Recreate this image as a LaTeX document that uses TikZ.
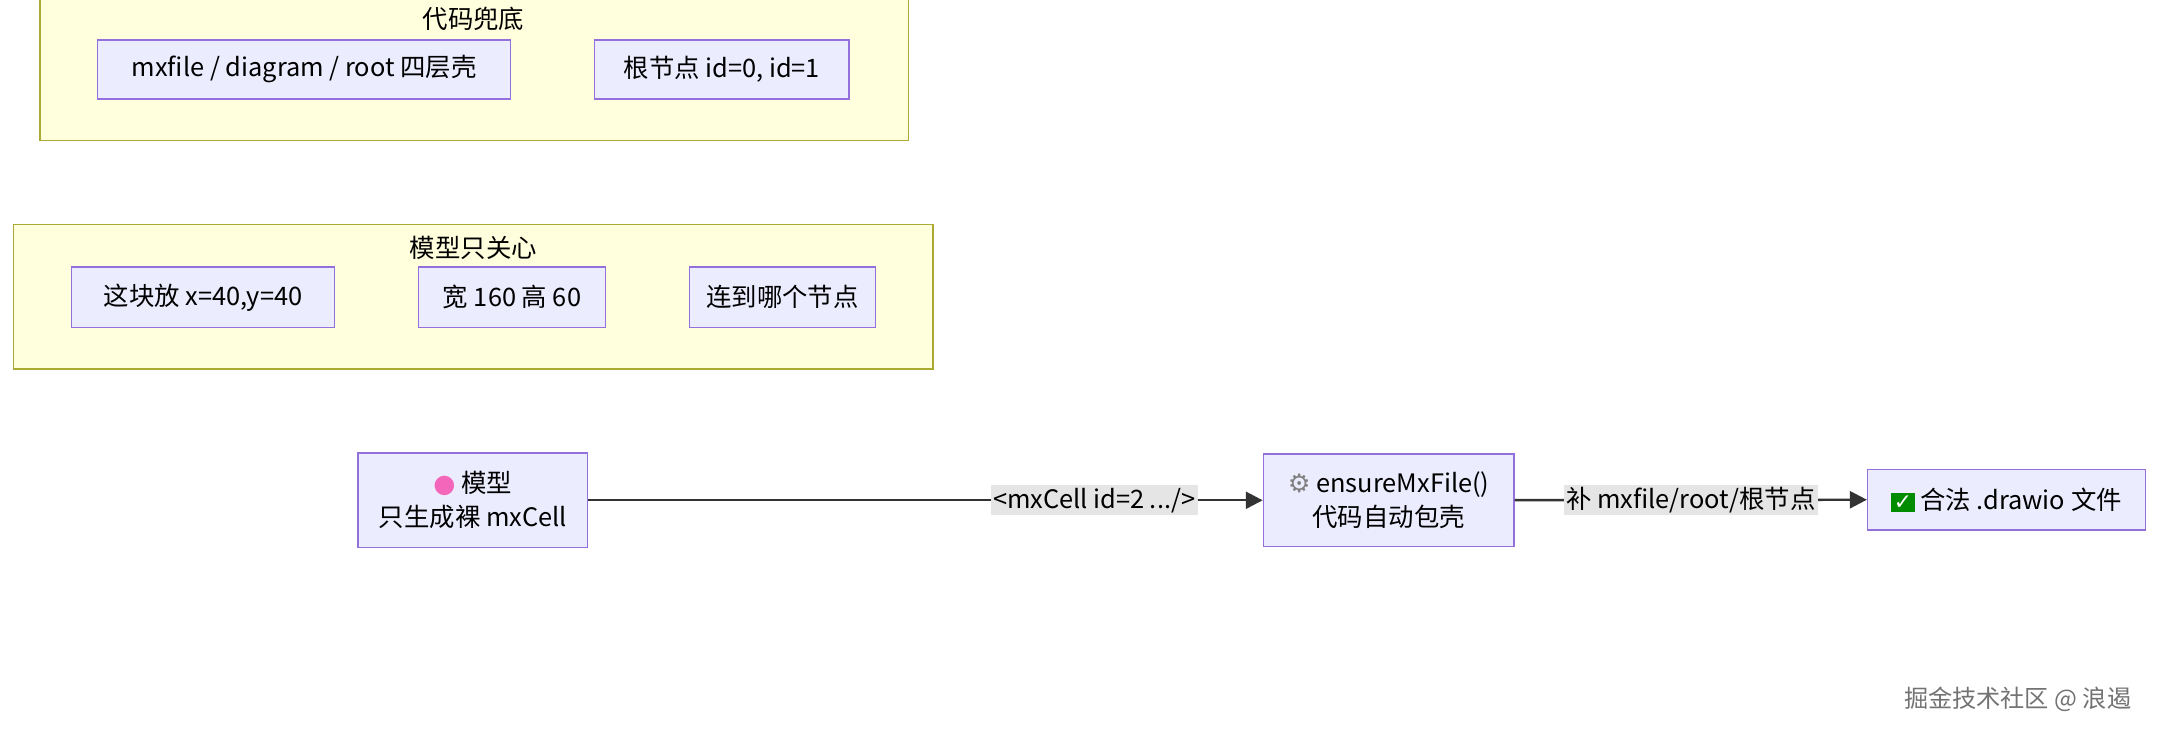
\documentclass[tikz,border=0pt]{standalone}
\usepackage{fontspec}
\setmainfont{Noto Sans CJK SC}
\newfontfamily\symfont{DejaVu Sans}
\usetikzlibrary{positioning,arrows.meta}
\definecolor{boxfill}{HTML}{ECECFF}
\definecolor{boxline}{HTML}{9370DB}
\definecolor{grpfill}{HTML}{FFFFDE}
\definecolor{grpline}{HTML}{AAAA33}
\newcommand{\okmark}{\colorbox{green!55!black}{\color{white}\symfont\small ✓}}
\tikzset{
  box/.style={draw=boxline, fill=boxfill, line width=0.6pt, align=center, font=\fontsize{10.5}{14}\selectfont},
  grp/.style={draw=grpline, fill=grpfill, line width=0.6pt},
  lbl/.style={fill=black!10, inner sep=1pt, font=\fontsize{10.5}{12}\selectfont},
  link/.style={line width=1pt, draw=black!80, -{Triangle[length=7pt,width=7pt]}},
}
\begin{document}
\begin{tikzpicture}[x=0.02cm, y=-0.02cm]
    \useasboundingbox (0,0) rectangle (1568,533);

    % code fallback
    \draw[grp] (29,-5) rectangle (660,102);
    \node[font=\fontsize{10.5}{12}\selectfont] (tcode) at (344,14) {代码兜底};
    \node[box, minimum width=300*0.02cm, minimum height=43*0.02cm] (shell) at (221,50.5) {mxfile / diagram / root 四层壳};
    \node[box, minimum width=185*0.02cm, minimum height=43*0.02cm] (root) at (524.5,50.5) {根节点 id=0, id=1};

    % model only cares about
    \draw[grp] (10,163) rectangle (678,268);
    \node[font=\fontsize{10.5}{12}\selectfont] (tmodel) at (344,180) {模型只关心};
    \node[box, minimum width=191*0.02cm, minimum height=44*0.02cm] (pos) at (147.5,216) {这块放 x=40,y=40};
    \node[box, minimum width=136*0.02cm, minimum height=44*0.02cm] (size) at (372,216) {宽 160 高 60};
    \node[box, minimum width=135*0.02cm, minimum height=44*0.02cm] (target) at (568.5,216) {连到哪个节点};

    % flow
    \node[box, minimum width=167*0.02cm, minimum height=69*0.02cm] (model) at (343.5,363.5)
      {{\color{magenta!60}\symfont ●}\ 模型\\只生成裸 mxCell};
    \node[box, minimum width=182*0.02cm, minimum height=67*0.02cm] (wrap) at (1009,363.5)
      {{\color{gray}\symfont ⚙}\ ensureMxFile()\\代码自动包壳};
    \node[box, minimum width=202*0.02cm, minimum height=44*0.02cm] (valid) at (1458,363)
      {\setlength{\fboxsep}{1pt}\okmark\ 合法 .drawio 文件};

    \draw[link] (model) -- node[lbl, pos=0.75] {<mxCell id=2 .../>} (wrap);
    \draw[link] (wrap) -- node[lbl] {补 mxfile/root/根节点} (valid);

    \node[text=black!55, font=\fontsize{10}{12}\selectfont] (mark) at (1466,508) {掘金技术社区 @ 浪遏};

\end{tikzpicture}
\end{document}
